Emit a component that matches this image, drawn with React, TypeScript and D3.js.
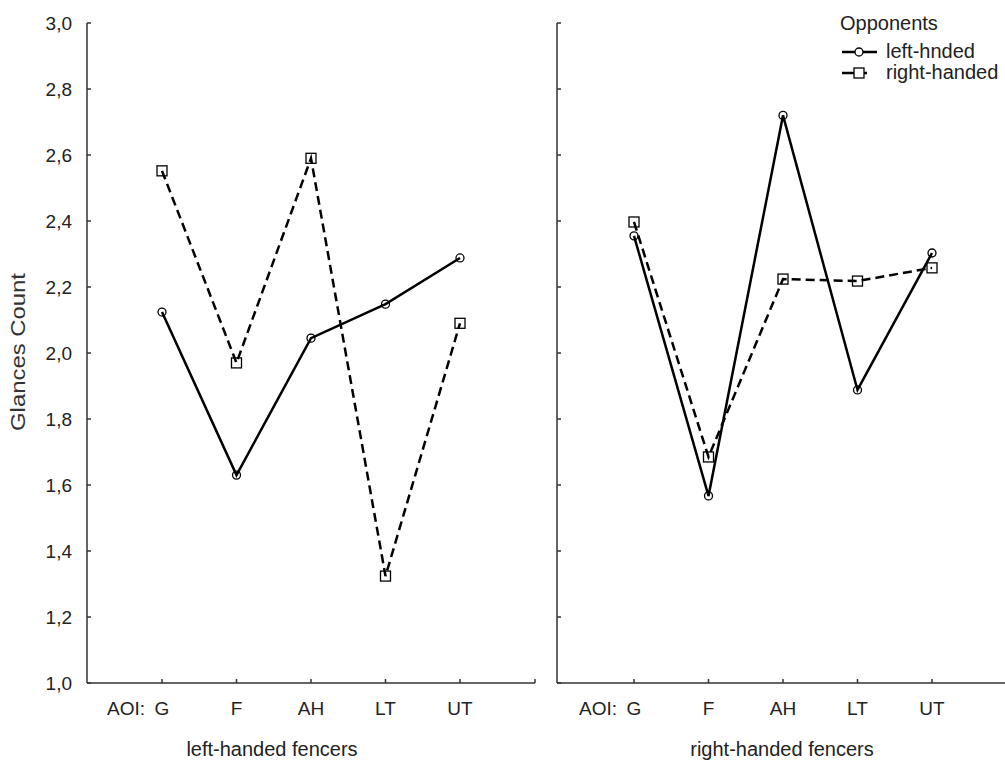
import React from 'react';
import * as d3 from 'd3';

// AOI categories on the x axis
const categories = ['G', 'F', 'AH', 'LT', 'UT'];
const yTicks = [1.0, 1.2, 1.4, 1.6, 1.8, 2.0, 2.2, 2.4, 2.6, 2.8, 3.0];

// left-handed fencers
const leftFencersVsLeft = [2.124, 1.63, 2.045, 2.148, 2.288];
const leftFencersVsRight = [2.552, 1.97, 2.59, 1.324, 2.09];
// right-handed fencers
const rightFencersVsLeft = [2.355, 1.567, 2.72, 1.888, 2.303];
const rightFencersVsRight = [2.397, 1.685, 2.224, 2.218, 2.258];

const font = '"Liberation Sans", Arial, sans-serif';
const ink = '#222';

const yScale = d3.scaleLinear().domain([1, 3]).range([683, 23]);

function Panel({ axisX, endX, first, last, solid, dashed, title, titleX, showYLabels }) {
  const x = d3.scalePoint().domain(categories).range([first, last]);
  const line = d3.line<number>()
    .x((d, i) => x(categories[i]))
    .y(d => yScale(d));
  return (
    <g>
      {/* y axis */}
      <line x1={axisX} x2={axisX} y1={yScale(3)} y2={yScale(1)} stroke="#333" strokeWidth={1.5} />
      {yTicks.map(t => (
        <g key={t}>
          <line x1={axisX} x2={axisX + 4} y1={yScale(t)} y2={yScale(t)} stroke="#333" strokeWidth={1.5} />
          {showYLabels && (
            <text x={72} y={yScale(t) + 7} textAnchor="end" fontSize={19} fill={ink} fontFamily={font}>
              {t.toFixed(1).replace('.', ',')}
            </text>
          )}
        </g>
      ))}
      {/* x axis */}
      <line x1={axisX} x2={endX} y1={yScale(1)} y2={yScale(1)} stroke="#333" strokeWidth={1.5} />
      {categories.map(c => (
        <g key={c}>
          <line x1={x(c)} x2={x(c)} y1={yScale(1)} y2={yScale(1) - 4} stroke="#333" strokeWidth={1.5} />
          <text x={x(c)} y={715} textAnchor="middle" fontSize={19} fill={ink} fontFamily={font}>{c}</text>
        </g>
      ))}
      <text x={x('G') - 17} y={715} textAnchor="end" fontSize={19} fill={ink} fontFamily={font}>AOI:</text>
      <text x={titleX} y={756} textAnchor="middle" fontSize={20} fill={ink} fontFamily={font}>{title}</text>

      {/* series */}
      <path d={line(solid)} fill="none" stroke="#000" strokeWidth={2.5} />
      <path d={line(dashed)} fill="none" stroke="#000" strokeWidth={2.5} strokeDasharray="9,5" />
      {solid.map((v, i) => (
        <circle key={'c' + i} cx={x(categories[i])} cy={yScale(v)} r={4} fill="none" stroke="#000" strokeWidth={1.3} />
      ))}
      {dashed.map((v, i) => (
        <rect key={'s' + i} x={x(categories[i]) - 5} y={yScale(v) - 5} width={10} height={10} fill="none" stroke="#000" strokeWidth={1.3} />
      ))}
    </g>
  );
}

export default function App() {
  return (
    <svg width={1005} height={762} style={{ position: 'absolute', left: 0, top: 0, background: '#fff' }}>
      <rect width={1005} height={762} fill="#fff" />
      <text transform="translate(25,352) rotate(-90)" textAnchor="middle" fontSize={20}
        textLength={158} lengthAdjust="spacingAndGlyphs" fill="#333" fontFamily={font}>Glances Count</text>

      <Panel axisX={87} endX={535} first={162} last={460}
        solid={leftFencersVsLeft} dashed={leftFencersVsRight}
        title="left-handed fencers" titleX={272} showYLabels />
      <line x1={535} x2={535} y1={yScale(1)} y2={yScale(1) - 4} stroke="#333" strokeWidth={1.5} />

      <Panel axisX={557} endX={1005} first={634} last={932}
        solid={rightFencersVsLeft} dashed={rightFencersVsRight}
        title="right-handed fencers" titleX={782} showYLabels={false} />

      {/* legend */}
      <g fontFamily={font} fill={ink}>
        <text x={840} y={30} fontSize={20}>Opponents</text>
        <line x1={842} x2={877} y1={52} y2={52} stroke="#000" strokeWidth={2.5} />
        <circle cx={859} cy={52} r={4} fill="#fff" stroke="#000" strokeWidth={1.3} />
        <text x={886} y={58} fontSize={20}>left-hnded</text>
        <line x1={842} x2={877} y1={73} y2={73} stroke="#000" strokeWidth={2.5} strokeDasharray="16,5,4,10" />
        <rect x={854} y={68} width={10} height={10} fill="#fff" stroke="#000" strokeWidth={1.3} />
        <text x={886} y={79} fontSize={20}>right-handed</text>
      </g>
    </svg>
  );
}
